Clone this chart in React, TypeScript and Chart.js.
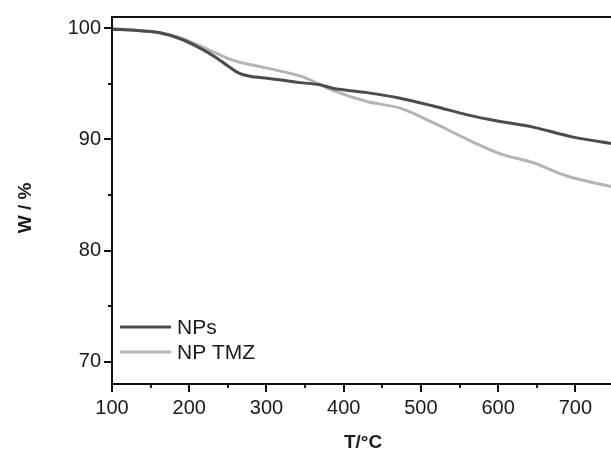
import { useEffect, useRef } from "react";
import { Chart, registerables } from "chart.js";
Chart.register(...registerables);

const npsT = [100, 130, 160, 190, 214, 236, 250, 266, 285, 301, 343, 369, 386, 430, 473, 516, 560, 603, 645, 697, 750];
const npsW = [99.9, 99.8, 99.6, 99.0, 98.2, 97.3, 96.6, 95.9, 95.6, 95.5, 95.1, 94.9, 94.6, 94.2, 93.7, 93.0, 92.2, 91.6, 91.1, 90.2, 89.6];
const tmzT = [100, 130, 162, 190, 214, 236, 257, 280, 301, 343, 361, 386, 430, 473, 516, 560, 603, 645, 689, 750];
const tmzW = [100.0, 99.8, 99.6, 99.1, 98.4, 97.7, 97.1, 96.7, 96.4, 95.7, 95.2, 94.4, 93.4, 92.8, 91.5, 90.0, 88.7, 87.9, 86.7, 85.7];
const xTicks = [100, 200, 300, 400, 500, 600, 700];
const xMinorTicks = [150, 250, 350, 450, 550, 650, 750];
const yTicks = [70, 80, 90, 100];
const yMinorTicks = [75, 85, 95];
const seriesNames = ["NPs", "NP TMZ"];
const seriesColors = ["#4c4c4c", "#b4b4b4"];
const xTitle = "T/°C";
const yTitle = "W / %";

const FONT = "'Liberation Sans', Arial, sans-serif";

export default function App() {
  const ref = useRef<HTMLCanvasElement>(null);
  useEffect(() => {
    const decor = {
      id: "decor",
      afterDraw(chart: any) {
        const ctx = chart.ctx;
        const a = chart.chartArea;
        const xs = chart.scales.x;
        const ys = chart.scales.y;
        ctx.save();
        ctx.strokeStyle = "#111";
        ctx.lineWidth = 2;
        ctx.strokeRect(a.left, a.top, a.right - a.left, a.bottom - a.top);
        ctx.beginPath();
        xTicks.forEach((v) => {
          const p = Math.round(xs.getPixelForValue(v));
          ctx.moveTo(p, a.bottom);
          ctx.lineTo(p, a.bottom + 8);
        });
        xMinorTicks.forEach((v) => {
          const p = Math.round(xs.getPixelForValue(v));
          ctx.moveTo(p, a.bottom);
          ctx.lineTo(p, a.bottom + 4);
        });
        yTicks.forEach((v) => {
          const p = Math.round(ys.getPixelForValue(v));
          ctx.moveTo(a.left, p);
          ctx.lineTo(a.left - 8, p);
        });
        yMinorTicks.forEach((v) => {
          const p = Math.round(ys.getPixelForValue(v));
          ctx.moveTo(a.left, p);
          ctx.lineTo(a.left - 4, p);
        });
        ctx.stroke();

        // legend
        const ly = [327, 352];
        seriesNames.forEach((n, i) => {
          ctx.strokeStyle = seriesColors[i];
          ctx.lineWidth = 3;
          ctx.beginPath();
          ctx.moveTo(a.left + 8, ly[i]);
          ctx.lineTo(a.left + 59, ly[i]);
          ctx.stroke();
          ctx.fillStyle = "#1a1a1a";
          ctx.font = "21px " + FONT;
          ctx.textBaseline = "middle";
          ctx.textAlign = "left";
          ctx.fillText(n, a.left + 65, ly[i] + 1);
        });

        // titles
        ctx.fillStyle = "#1a1a1a";
        ctx.font = "bold 19px " + FONT;
        ctx.textAlign = "center";
        ctx.textBaseline = "middle";
        ctx.fillText(xTitle, 363, 443);
        ctx.translate(26, 208);
        ctx.rotate(-Math.PI / 2);
        ctx.fillText(yTitle, 0, 0);
        ctx.restore();
      },
    };
    const chart = new Chart(ref.current as HTMLCanvasElement, {
      type: "line",
      data: {
        datasets: [
          {
            label: seriesNames[0],
            data: npsT.map((x, i) => ({ x, y: npsW[i] })),
            borderColor: seriesColors[0],
            borderWidth: 3,
            pointRadius: 0,
            cubicInterpolationMode: "monotone",
          },
          {
            label: seriesNames[1],
            data: tmzT.map((x, i) => ({ x, y: tmzW[i] })),
            borderColor: seriesColors[1],
            borderWidth: 3,
            pointRadius: 0,
            cubicInterpolationMode: "monotone",
          },
        ],
      },
      options: {
        responsive: false,
        animation: false,
        layout: { padding: { top: 17, right: 6, left: 0, bottom: 0 } },
        plugins: { legend: { display: false }, tooltip: { enabled: false } },
        scales: {
          x: {
            type: "linear",
            min: 100,
            max: 750,
            afterBuildTicks: (s: any) => {
              s.ticks = xTicks.map((v) => ({ value: v }));
            },
            afterFit: (s: any) => {
              s.height = 68;
              s.paddingLeft = 0;
              s.paddingRight = 0;
            },
            ticks: {
              font: { size: 20, family: FONT },
              color: "#1a1a1a",
              padding: 12,
              maxRotation: 0,
              autoSkip: false,
            },
            grid: { display: false, drawTicks: false },
            border: { display: false },
          },
          y: {
            type: "linear",
            min: 68,
            max: 101,
            afterBuildTicks: (s: any) => {
              s.ticks = yTicks.map((v) => ({ value: v }));
            },
            afterFit: (s: any) => {
              s.width = 112;
              s.paddingTop = 0;
              s.paddingBottom = 0;
            },
            ticks: {
              font: { size: 20, family: FONT },
              color: "#1a1a1a",
              padding: 11,
              autoSkip: false,
            },
            grid: { display: false, drawTicks: false },
            border: { display: false },
          },
        },
      },
      plugins: [decor],
    });
    return () => chart.destroy();
  }, []);
  return (
    <div style={{ position: "fixed", left: 0, top: 0, width: 611, height: 452, overflow: "hidden", background: "#fff" }}>
      <canvas ref={ref} width={620} height={452} style={{ display: "block" }} />
    </div>
  );
}
